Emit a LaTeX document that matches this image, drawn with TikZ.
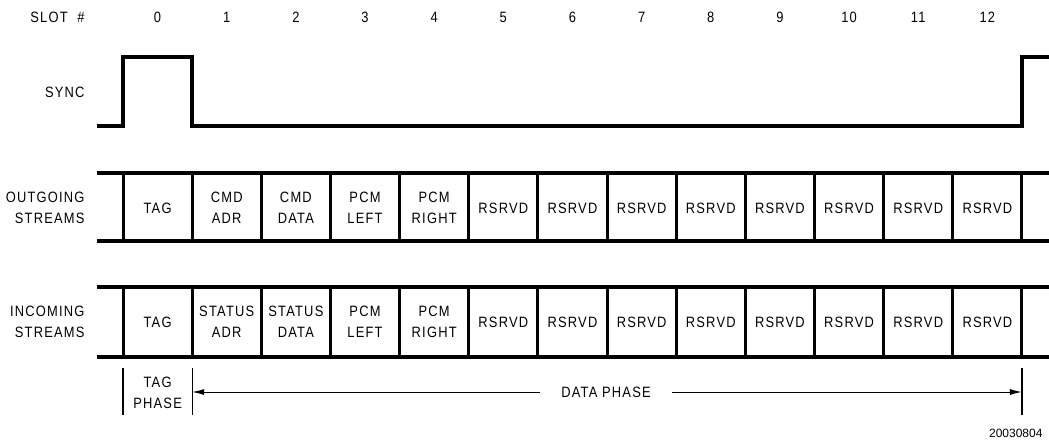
\documentclass[tikz,border=0pt]{standalone}
\usepackage{fontspec}
\setmainfont{Liberation Sans}[FakeStretch=0.86,LetterSpace=8]
\newfontfamily\plainfont{Liberation Sans}
\usetikzlibrary{arrows.meta}

\begin{document}
\begin{tikzpicture}[x=1pt,y=-1pt,font=\fontsize{15}{21}\selectfont]
    % Set the width of each slot
    \newcommand{\slotwidth}{69.15}
    \fill [white] (0,0) rectangle (1049,444);
    \useasboundingbox (0,0) rectangle (1049,444);

    % Slot numbers
    \node [anchor=east] (slothead) at (88,17) {SLOT\ \ \#};
    \foreach \s in {0,...,12}
      \node (slot\s) at ({123+\slotwidth*(\s+0.5)},17) {\s};

    % Draw the sync signal
    \node [anchor=east] (synclabel) at (88,92) {SYNC};
    \draw [line width=3.5pt] (97,126) -- (123,126) -- (123,57) -- (192.15,57)
      -- (192.15,126) -- (1021.95,126) -- (1021.95,57) -- (1049,57);

    % Draw the two streams
    \node [anchor=east,align=right] (outlabel) at (88,208) {OUTGOING\\STREAMS};
    \node [anchor=east,align=right] (inlabel) at (88,322) {INCOMING\\STREAMS};
    \foreach \top/\bot in {173/241,287/357} {
      \draw [line width=3.5pt] (97,\top) -- (1049,\top);
      \draw [line width=3.5pt] (97,\bot) -- (1049,\bot);
      \foreach \i in {0,...,13}
        \draw [line width=3pt] ({123+\slotwidth*\i},\top) -- ({123+\slotwidth*\i},\bot);
    }

    % Fill in the slots
    \foreach \txt [count=\i from 0] in {TAG,CMD\\ADR,CMD\\DATA,PCM\\LEFT,PCM\\RIGHT,
        RSRVD,RSRVD,RSRVD,RSRVD,RSRVD,RSRVD,RSRVD,RSRVD}
      \node [align=center] (out\i) at ({123+\slotwidth*(\i+0.5)},208) {\txt};
    \foreach \txt [count=\i from 0] in {TAG,STATUS\\ADR,STATUS\\DATA,PCM\\LEFT,PCM\\RIGHT,
        RSRVD,RSRVD,RSRVD,RSRVD,RSRVD,RSRVD,RSRVD,RSRVD}
      \node [align=center] (in\i) at ({123+\slotwidth*(\i+0.5)},322) {\txt};

    % Phases
    \foreach \x in {123,192.15,1021.95}
      \draw [line width=1.2pt] (\x,368) -- (\x,415);
    \node [align=center] (tagphase) at (157.6,393) {TAG\\PHASE};
    \coordinate (datastart) at (192.15,392);
    \coordinate (dataend) at (1021.95,392);
    \node [inner xsep=21pt] (dataphase) at (606,392) {DATA PHASE};
    \draw [line width=1pt,-{Latex[length=12pt,width=6pt]}] (dataphase) -- (datastart);
    \draw [line width=1pt,-{Latex[length=12pt,width=6pt]}] (dataphase) -- (dataend);

    \node [anchor=east,font=\plainfont\fontsize{12}{14}\selectfont] (figid) at (1046,433) {20030804};
\end{tikzpicture}
\end{document}
